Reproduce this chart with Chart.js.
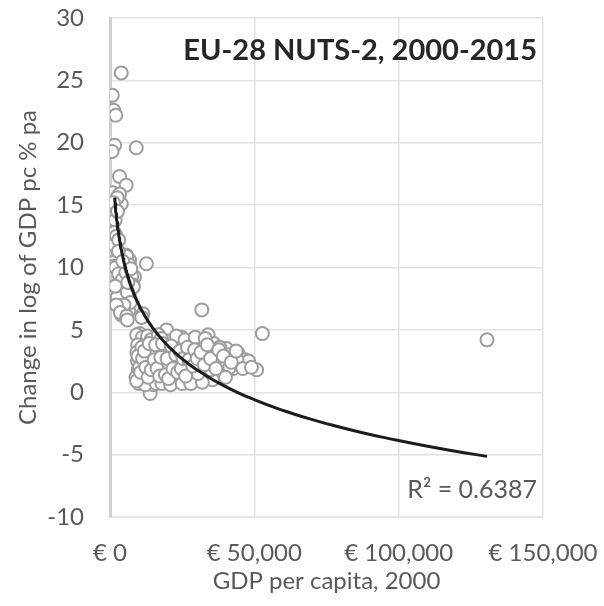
<!DOCTYPE html>
<html lang="en">
<head>
    <meta charset="UTF-8">
    <title>EU-28 NUTS-2 convergence</title>
    <style>
        body {
            margin: 0;
            background-color: #fff;
        }

        .wrap {
            width: 604px;
            height: 606px;
        }
    </style>
    <script src="https://cdn.jsdelivr.net/npm/chart.js"></script>
</head>
<body>
    <div class="wrap"><canvas id="myChart"></canvas></div>
    <script>
        // GDP per capita in 2000 (EUR) and change in log of GDP pc, % pa
        const gdpPerCapita2000 = [
            3900, 800, 1300, 2000, 1600, 700, 9100,
            3300, 5600, 1000, 3300, 3900, 2500, 1000, 1800, 1500, 2200,
            1200, 2600, 1400, 3000,
            5600, 1000, 6800, 12600, 1300, 5800, 6800, 8500, 7500,
            2800, 8000, 8100, 3500, 3900, 3300, 4600, 5200, 2500, 6000,
            3900, 4500, 4000, 5000, 6500, 11400, 11000, 31800,
            2000, 3000, 4200, 5500, 6200, 7000, 4800, 2200, 3600, 5800, 2900, 4400, 7200, 1800, 6000,
            10300, 18900, 15500, 10300, 10800, 18400, 22400, 9250, 19600, 21900, 24800, 27100,
            13900, 11000, 18500, 9800, 15000, 10400, 23700, 13900, 20800, 27700,
            34000, 30000, 40400, 44400, 46800, 36400, 42700, 50800, 38100, 31200, 31200, 28300,
            52800, 130600,
            9500, 9000, 10000, 11500, 12000, 12500, 12800, 13500, 14000, 14500, 15000, 16000,
            16500, 17000, 17500, 18000, 19000, 19500, 20000, 20500, 21000, 21500, 22000, 22500,
            23000, 23500, 24000, 24500, 25000, 25500, 26000, 26500, 27000, 27500, 28000, 28500,
            29000, 29500, 30000, 30500, 31000, 32000, 32500, 33000, 33500, 34500, 35000, 35500,
            36000, 37000, 37500, 38500, 39000, 40000, 41000, 41500, 43000, 45000, 47500, 48000,
            10500, 11200, 13000, 14200, 16800, 17800, 23000, 26000, 29500, 33000, 38000, 44000,
            9600, 10200, 11800, 12200, 16000, 18000, 21000, 25000, 28000, 32000,
            9300, 11000, 14800, 19000, 22000, 26500, 30500, 35000, 40000,
            9200, 9700, 10600, 11300, 11900, 12400, 13200, 13600, 14300, 15300, 15800, 16300,
            17200, 17600, 18200, 19200, 19800, 20300, 21200, 21800, 22800, 23400, 24200, 24700,
            25300, 26200, 26800, 27300, 28700, 29300, 30200, 31500, 32700, 33700, 34800, 36700,
            37700, 39300, 42000, 43700, 46000, 49000
        ];
        const growthPctPa = [
            25.6, 23.8, 22.6, 22.2, 19.8, 19.3, 19.6,
            17.3, 16.6, 16.0, 15.9, 15.1, 15.6, 14.0, 13.8, 12.8, 12.5,
            15.2, 14.5, 11.8, 12.2,
            11.0, 10.4, 10.6, 10.3, 10.1, 10.9, 10.2, 9.25, 9.3,
            8.7, 8.6, 8.45, 8.2, 8.05, 7.4, 7.4, 7.8, 7.6, 8.0,
            6.6, 6.3, 6.2, 6.8, 6.5, 6.3, 6.0, 6.6,
            10.0, 9.5, 9.0, 9.6, 8.8, 7.2, 7.0, 7.0, 6.4, 6.1, 11.3, 10.5, 9.9, 8.5, 5.8,
            4.7, 4.8, 4.0, 3.5, 3.0, 2.8, 4.2, 4.6, 5.0, 4.2, 4.4, 3.9,
            -0.1, 3.1, 2.4, 1.8, 1.5, 1.0, 1.5, 0.8, 0.8, 1.2,
            4.6, 3.6, 3.5, 3.1, 2.6, 2.7, 1.9, 1.8, 1.5, 2.3, 1.0, 3.0,
            4.7, 4.2,
            2.5, 1.2, 0.7, 2.2, 1.5, 3.8, 0.9, 2.8, 3.4, 2.0, 0.6, 3.0,
            1.1, 2.2, 3.6, 1.6, 0.9, 2.0, 3.2, 4.1, 1.4, 2.7, 3.4, 0.9,
            2.1, 3.0, 1.2, 2.4, 3.6, 1.7, 2.9, 0.9, 2.2, 3.3, 1.6, 4.0,
            2.6, 1.2, 2.0, 3.0, 4.1, 1.6, 3.5, 2.6, 1.3, 2.0, 3.3, 1.0,
            3.9, 2.2, 3.0, 2.6, 1.9, 2.4, 3.0, 2.0, 2.8, 2.2, 2.3, 2.5,
            4.0, 4.4, 4.5, 4.2, 4.6, 4.3, 4.5, 4.2, 4.4, 4.3, 3.6, 2.6,
            3.8, 2.0, 1.3, 0.6, 0.7, 0.7, 0.6, 0.7, 0.7, 0.8,
            3.2, 3.6, 3.1, 3.4, 2.5, 1.9, 1.5, 1.8, 1.2,
            0.9, 2.9, 1.6, 2.7, 3.3, 2.0, 1.2, 3.9, 1.8, 2.6, 3.8, 1.9,
            1.3, 2.8, 3.9, 1.4, 2.7, 1.1, 3.7, 1.9, 3.0, 1.6, 3.3, 1.9,
            2.7, 1.3, 3.6, 2.6, 2.1, 3.4, 2.7, 3.2, 2.2, 3.8, 2.7, 1.9,
            3.4, 2.9, 2.4, 3.3, 1.9, 2.0
        ];

        // logarithmic trendline y = a*ln(x) + b
        const trendA = -4.73;
        const trendB = 50.58;
        const trendRange = [1630, 130600];
        const rSquared = '0.6387';

        const xTicks = [0, 50000, 100000, 150000];
        const yTicks = [-10, -5, 0, 5, 10, 15, 20, 25, 30];

        const points = gdpPerCapita2000.map((x, i) => ({ x: x, y: growthPctPa[i] }));

        const trend = [];
        const steps = 150;
        for (let i = 0; i <= steps; i++) {
            const x = trendRange[0] * Math.pow(trendRange[1] / trendRange[0], i / steps);
            trend.push({ x: x, y: trendA * Math.log(x) + trendB });
        }

        const FONT = 'Lato, "Open Sans", sans-serif';
        const TEXT = '#595959';
        const GRID = '#e2e2e2';

        const labelsPlugin = {
            id: 'labels',
            afterDraw(chart) {
                const { ctx, chartArea } = chart;
                ctx.save();
                ctx.textAlign = 'right';
                ctx.textBaseline = 'middle';
                ctx.fillStyle = '#262626';
                ctx.font = 'bold 29px ' + FONT;
                ctx.fillText('EU-28 NUTS-2, 2000-2015', chartArea.right - 6, chartArea.top + 33);
                ctx.fillStyle = TEXT;
                ctx.font = '25px ' + FONT;
                ctx.fillText('R\u00b2 = ' + rSquared, chartArea.right - 6, chartArea.bottom - 27);
                ctx.restore();
            }
        };

        const ctx = document.getElementById('myChart').getContext('2d');
        const myChart = new Chart(ctx, {
            type: 'scatter',
            data: {
                datasets: [{
                    label: 'trend',
                    type: 'line',
                    data: trend,
                    borderColor: '#1c1c1c',
                    borderWidth: 3,
                    pointRadius: 0,
                    fill: false,
                    tension: 0,
                    order: 0
                }, {
                    label: 'NUTS-2 regions',
                    data: points,
                    pointRadius: 6.5,
                    pointBorderWidth: 2,
                    pointBorderColor: '#9d9d9d',
                    pointBackgroundColor: '#fff',
                    order: 1
                }]
            },
            options: {
                responsive: true,
                maintainAspectRatio: false,
                animation: false,
                layout: {
                    padding: { top: 18, right: 61, left: 0, bottom: 0 }
                },
                scales: {
                    x: {
                        type: 'linear',
                        min: xTicks[0],
                        max: xTicks[xTicks.length - 1],
                        afterBuildTicks: (scale) => { scale.ticks = xTicks.map(v => ({ value: v })); },
                        afterFit: (scale) => {
                            scale.height = 89;
                            scale.paddingLeft = 0;
                            scale.paddingRight = 0;
                        },
                        grid: { color: GRID, lineWidth: 1.5, drawTicks: false },
                        border: { color: GRID, width: 1.5 },
                        ticks: {
                            padding: 22,
                            color: TEXT,
                            font: { family: FONT, size: 24 },
                            maxRotation: 0,
                            callback: (v) => '\u20ac ' + Number(v).toLocaleString('en-US')
                        },
                        title: {
                            display: true,
                            text: 'GDP per capita, 2000',
                            color: TEXT,
                            font: { family: FONT, size: 24 },
                            padding: { top: 0, bottom: 10 }
                        }
                    },
                    y: {
                        min: yTicks[0],
                        max: yTicks[yTicks.length - 1],
                        afterBuildTicks: (scale) => { scale.ticks = yTicks.map(v => ({ value: v })); },
                        afterFit: (scale) => {
                            scale.width = 110;
                            scale.paddingTop = 0;
                            scale.paddingBottom = 0;
                        },
                        grid: { color: GRID, lineWidth: 1.5, drawTicks: false },
                        border: { color: '#d0d0d0', width: 3 },
                        ticks: {
                            padding: 26,
                            color: TEXT,
                            font: { family: FONT, size: 24 }
                        },
                        title: {
                            display: true,
                            text: 'Change in log of GDP pc % pa',
                            color: TEXT,
                            font: { family: FONT, size: 24 },
                            padding: { top: 14, bottom: 0 }
                        }
                    }
                },
                plugins: {
                    legend: { display: false },
                    tooltip: { enabled: false }
                }
            },
            plugins: [labelsPlugin]
        });
    </script>
</body>
</html>
